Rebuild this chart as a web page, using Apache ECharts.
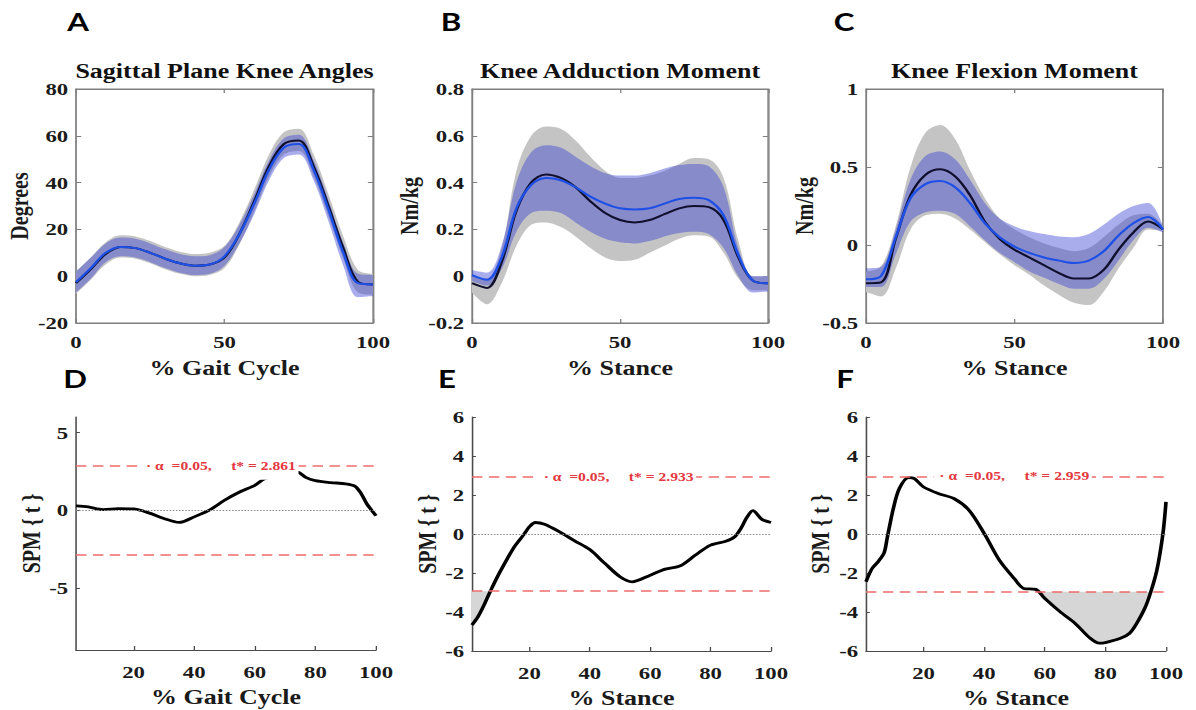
<!DOCTYPE html>
<html>
<head>
<meta charset="utf-8">
<title>Knee angles, moments and SPM</title>
<script src="https://cdn.jsdelivr.net/npm/echarts@6.0.0/dist/echarts.min.js"></script>
<style>
  html, body { margin: 0; padding: 0; background: #fff; overflow: hidden; }
  /* the source figure is stretched sideways, so the chart is drawn narrow and widened */
  #chart { width: 920px; height: 710px; transform: scaleX(1.3); transform-origin: 0 0; }
</style>
</head>
<body>
<div id="chart"></div>
<script>
// ---- data ----
// % cycle / % stance for the three waveform panels
const pctX = [0, 5, 10, 15, 20, 25, 30, 35, 40, 45, 50, 55, 60, 65, 70, 75, 80, 85, 90, 95, 100];

// A: sagittal plane knee angle (deg)
const angleBlack  = [-3, 3, 9.5, 12.5, 12, 10, 7.5, 5.5, 4.5, 5, 8, 18, 32, 47, 56.5, 58, 47, 30, 12, -2.5, -3.5];
const angleBlue   = [-2.5, 3.5, 10, 12.5, 12, 10, 7.5, 5.5, 4.5, 5, 8.5, 18, 31, 45.5, 55, 56.5, 45.5, 28.5, 10, -3, -3.5];
const angleGrayHi = [2, 8, 14.5, 17.5, 17, 15, 12.5, 10.5, 9.5, 10, 13, 23, 37, 52, 61.5, 63, 52, 35, 17, 2.5, 1];
const angleGrayLo = [-7.5, -1.5, 5, 8, 7.5, 5.5, 3, 1, 0, 0.5, 3.5, 13.5, 27.5, 42.5, 52, 53.5, 42.5, 25.5, 7.5, -7, -8];
const angleBlueHi = [2, 8, 14, 16.5, 16, 14, 11.5, 9.5, 8.5, 9, 12.5, 22, 35, 49.5, 59, 60.5, 49.5, 32.5, 14, 1, 0.5];
const angleBlueLo = [-7, -1, 6, 8.5, 8, 6, 3.5, 1.5, 0.5, 1, 4.5, 14, 26.5, 41, 50.5, 52, 41, 23.5, 4.5, -9, -8.5];

// B: knee adduction moment (Nm/kg)
const kamBlack  = [-0.03, -0.05, 0.06, 0.28, 0.40, 0.435, 0.42, 0.38, 0.32, 0.27, 0.24, 0.23, 0.24, 0.265, 0.29, 0.30, 0.295, 0.24, 0.08, -0.02, -0.03];
const kamBlue   = [0.005, -0.015, 0.08, 0.29, 0.39, 0.42, 0.41, 0.38, 0.34, 0.31, 0.29, 0.285, 0.29, 0.31, 0.33, 0.335, 0.325, 0.26, 0.09, -0.02, -0.03];
const kamGrayHi = [0.0, -0.01, 0.12, 0.45, 0.6, 0.64, 0.63, 0.58, 0.51, 0.45, 0.42, 0.42, 0.43, 0.45, 0.48, 0.505, 0.5, 0.42, 0.15, 0.0, 0.0];
const kamGrayLo = [-0.07, -0.12, -0.03, 0.13, 0.22, 0.23, 0.21, 0.17, 0.12, 0.08, 0.065, 0.07, 0.1, 0.13, 0.16, 0.175, 0.17, 0.1, -0.01, -0.06, -0.06];
const kamBlueHi = [0.025, 0.015, 0.13, 0.4, 0.53, 0.56, 0.55, 0.51, 0.47, 0.44, 0.43, 0.43, 0.44, 0.46, 0.475, 0.48, 0.47, 0.38, 0.12, 0.0, 0.0];
const kamBlueLo = [-0.02, -0.04, 0.03, 0.19, 0.27, 0.28, 0.27, 0.23, 0.19, 0.16, 0.145, 0.14, 0.15, 0.17, 0.185, 0.19, 0.18, 0.12, 0.0, -0.07, -0.065];

// C: knee flexion moment (Nm/kg)
const kfmBlack  = [-0.245, -0.24, 0.04, 0.32, 0.45, 0.485, 0.44, 0.32, 0.15, 0.04, -0.03, -0.08, -0.13, -0.18, -0.215, -0.215, -0.16, -0.03, 0.08, 0.15, 0.1];
const kfmBlue   = [-0.22, -0.2, 0.05, 0.3, 0.39, 0.41, 0.37, 0.27, 0.14, 0.05, -0.01, -0.05, -0.08, -0.1, -0.115, -0.1, -0.04, 0.06, 0.14, 0.18, 0.1];
const kfmGrayHi = [-0.17, -0.14, 0.12, 0.5, 0.72, 0.77, 0.68, 0.48, 0.3, 0.17, 0.1, 0.05, 0.01, -0.02, -0.04, -0.02, 0.05, 0.13, 0.19, 0.2, 0.12];
const kfmGrayLo = [-0.3, -0.33, -0.15, 0.1, 0.19, 0.2, 0.17, 0.1, 0.02, -0.06, -0.13, -0.19, -0.26, -0.32, -0.37, -0.385, -0.3, -0.15, -0.02, 0.1, 0.09];
const kfmBlueHi = [-0.15, -0.14, 0.1, 0.42, 0.57, 0.6, 0.55, 0.42, 0.27, 0.17, 0.12, 0.09, 0.07, 0.055, 0.05, 0.07, 0.13, 0.2, 0.25, 0.27, 0.12];
const kfmBlueLo = [-0.27, -0.27, -0.06, 0.15, 0.21, 0.22, 0.2, 0.12, 0.03, -0.05, -0.11, -0.17, -0.21, -0.25, -0.28, -0.28, -0.22, -0.1, 0.03, 0.11, 0.08];

// D: SPM{t} knee angle
const spmAngleX = [1, 5, 10, 15, 20, 25, 30, 35, 40, 45, 50, 55, 60, 63, 66, 70, 74, 77, 80, 85, 90, 93, 95, 97, 100];
const spmAngleT = [0.28, 0.21, 0.04, 0.1, 0.08, -0.17, -0.53, -0.79, -0.43, 0, 0.64, 1.17, 1.6, 2.0, 2.2, 2.4, 2.45, 2.1, 1.9, 1.78, 1.7, 1.55, 1.1, 0.4, -0.35];
const spmAngleCrit = 2.861;

// E: SPM{t} knee adduction moment
const spmKamX = [1, 3, 5, 7, 10, 15, 18, 20, 22, 25, 30, 35, 40, 45, 50, 54, 60, 65, 70, 75, 80, 85, 88, 90, 92, 94, 97, 100];
const spmKamT = [-4.67, -4.24, -3.64, -2.96, -2.02, -0.66, -0.06, 0.37, 0.59, 0.5, 0.11, -0.35, -0.8, -1.51, -2.19, -2.45, -2.11, -1.8, -1.63, -1.08, -0.57, -0.37, -0.14, 0.28, 0.85, 1.2, 0.75, 0.59];
const spmKamCrit = 2.933;

// F: SPM{t} knee flexion moment
const spmKfmX = [1, 3, 5, 7, 8, 10, 12, 15, 17, 20, 25, 30, 35, 40, 45, 50, 53, 57, 60, 65, 70, 75, 78, 80, 85, 88, 90, 93, 95, 97, 99, 100];
const spmKfmT = [-2.45, -1.77, -1.42, -0.95, -0.2, 1.3, 2.33, 2.89, 2.84, 2.41, 2.07, 1.82, 1.22, 0.03, -1.34, -2.3, -2.79, -2.84, -3.3, -3.98, -4.58, -5.35, -5.6, -5.57, -5.35, -5.09, -4.67, -3.81, -2.96, -1.85, 0.03, 1.65];
const spmKfmCrit = 2.959;

// ---- layout / style ----
const SX = 1.3; // sideways stretch of the page (see #chart css)
const SERIF = "'Liberation Serif', 'Times New Roman', serif";
const SANS = "Lato, 'Open Sans', sans-serif";
const BOX_GRAY = '#7f7f7f';
const AXIS_DARK = '#4a4a4a';
const GRAY_BAND = '#c4c4c4';
const BLUE_BAND = 'rgba(50, 60, 210, 0.42)';
const BLACK_LINE = '#10102e';
const BLUE_LINE = '#1f50e6';
const CRIT_RED = '#ef6b6b';

// plot boxes in final (stretched) pixels
const boxesPx = [
  { left: 76, top: 89, width: 297, height: 234 },
  { left: 472, top: 89, width: 296, height: 234 },
  { left: 866, top: 89, width: 297, height: 234 },
  { left: 76, top: 417, width: 300, height: 233 },
  { left: 472, top: 417, width: 299, height: 234 },
  { left: 866, top: 417, width: 300, height: 234 }
];
const boxes = boxesPx.map(b => ({ left: b.left / SX, top: b.top, width: b.width / SX, height: b.height }));

const tickFont = { color: '#1a1a1a', fontFamily: SERIF, fontWeight: 'bold', fontSize: 17.5 };
const nameFont = { color: '#1a1a1a', fontFamily: SERIF, fontWeight: 'bold', fontSize: 20 };

const wave = [
  { title: 'Sagittal Plane Knee Angles', xName: '% Gait Cycle', yName: 'Degrees', nameGap: 44, min: -20, max: 80, interval: 20,
    black: angleBlack, blue: angleBlue, grayHi: angleGrayHi, grayLo: angleGrayLo, blueHi: angleBlueHi, blueLo: angleBlueLo },
  { title: 'Knee Adduction Moment', xName: '% Stance', yName: 'Nm/kg', nameGap: 50, min: -0.2, max: 0.8, interval: 0.2,
    black: kamBlack, blue: kamBlue, grayHi: kamGrayHi, grayLo: kamGrayLo, blueHi: kamBlueHi, blueLo: kamBlueLo },
  { title: 'Knee Flexion Moment', xName: '% Stance', yName: 'Nm/kg', nameGap: 46, min: -0.5, max: 1, interval: 0.5,
    black: kfmBlack, blue: kfmBlue, grayHi: kfmGrayHi, grayLo: kfmGrayLo, blueHi: kfmBlueHi, blueLo: kfmBlueLo }
];

const spm = [
  { xName: '% Gait Cycle', nameGap: 31, min: -9, max: 6, yTicks: [-5, 0, 5], labelAt: 48.4, xs: spmAngleX, ts: spmAngleT, crit: spmAngleCrit, shade: false },
  { xName: '% Stance', nameGap: 32, min: -6, max: 6, interval: 2, labelAt: 49.1, xs: spmKamX, ts: spmKamT, crit: spmKamCrit, shade: true },
  { xName: '% Stance', nameGap: 33, min: -6, max: 6, interval: 2, labelAt: 49.5, xs: spmKfmX, ts: spmKfmT, crit: spmKfmCrit, shade: true }
];

function pairs(xs, ys) {
  return xs.map((x, i) => [x, ys[i]]);
}

// ---- axes ----
const xAxes = [];
const yAxes = [];

wave.forEach((p, i) => {
  xAxes.push({
    type: 'category', gridIndex: i, data: pctX.map(String), boundaryGap: false,
    axisLine: { show: true, onZero: false, lineStyle: { color: BOX_GRAY, width: 1 } },
    axisTick: { show: true, inside: true, length: 4, interval: 9, lineStyle: { color: BOX_GRAY } },
    axisLabel: Object.assign({ interval: 9, margin: 10 }, tickFont),
    splitLine: { show: false },
    name: p.xName, nameLocation: 'middle', nameGap: 35, nameTextStyle: nameFont
  });
  yAxes.push({
    type: 'value', gridIndex: i, min: p.min, max: p.max, interval: p.interval,
    axisLine: { show: true, onZero: false, lineStyle: { color: BOX_GRAY, width: 1 } },
    axisTick: { show: true, inside: true, length: 4, lineStyle: { color: BOX_GRAY } },
    axisLabel: Object.assign({ margin: 6 }, tickFont),
    splitLine: { show: false },
    name: p.yName, nameLocation: 'middle', nameGap: p.nameGap / SX, nameTextStyle: nameFont
  });
});

spm.forEach((p, k) => {
  const i = k + 3;
  xAxes.push({
    type: 'value', gridIndex: i, min: 1, max: 100,
    axisLine: { show: true, onZero: false, lineStyle: { color: AXIS_DARK, width: 1.2 } },
    axisTick: { show: true, inside: true, length: 4, customValues: [20, 40, 60, 80, 100], lineStyle: { color: AXIS_DARK } },
    axisLabel: Object.assign({ margin: 13, customValues: [20, 40, 60, 80, 100] }, tickFont),
    splitLine: { show: false },
    name: p.xName, nameLocation: 'middle', nameGap: 37, nameTextStyle: nameFont
  });
  const y = {
    type: 'value', gridIndex: i, min: p.min, max: p.max,
    axisLine: { show: true, onZero: false, lineStyle: { color: AXIS_DARK, width: 1.2 } },
    axisTick: { show: true, inside: true, length: 3, lineStyle: { color: AXIS_DARK } },
    axisLabel: Object.assign({ margin: 6 }, tickFont),
    splitLine: { show: false },
    name: 'SPM { t }', nameLocation: 'middle', nameGap: p.nameGap / SX, nameTextStyle: nameFont
  };
  if (p.interval) y.interval = p.interval;
  if (p.yTicks) {
    y.axisLabel.customValues = p.yTicks;
    y.axisTick.customValues = p.yTicks;
  }
  yAxes.push(y);
});

// mirrored ticks on top / right of the boxed panels
wave.forEach((p, i) => {
  xAxes.push({
    type: 'category', gridIndex: i, position: 'top', data: pctX.map(String), boundaryGap: false,
    axisLine: { show: true, onZero: false, lineStyle: { color: BOX_GRAY, width: 1 } },
    axisTick: { show: true, inside: true, length: 4, interval: 9, lineStyle: { color: BOX_GRAY } },
    axisLabel: { show: false }, splitLine: { show: false }
  });
  yAxes.push({
    type: 'value', gridIndex: i, position: 'right', min: p.min, max: p.max, interval: p.interval,
    axisLine: { show: true, onZero: false, lineStyle: { color: BOX_GRAY, width: 1 } },
    axisTick: { show: true, inside: true, length: 4, lineStyle: { color: BOX_GRAY } },
    axisLabel: { show: false }, splitLine: { show: false }
  });
});

// ---- series ----
const series = [];

function band(i, lo, hi, color, key) {
  const base = {
    type: 'line', xAxisIndex: i, yAxisIndex: i, stack: key + i, stackStrategy: 'all',
    smooth: 0.35, symbol: 'none', silent: true, lineStyle: { opacity: 0 }
  };
  series.push(Object.assign({}, base, { data: lo }));
  series.push(Object.assign({}, base, {
    data: hi.map((v, k) => +(v - lo[k]).toFixed(4)),
    areaStyle: { color: color, opacity: 1 }
  }));
}

function meanLine(i, ys, color) {
  series.push({
    type: 'line', xAxisIndex: i, yAxisIndex: i, data: ys, smooth: 0.35,
    symbol: 'none', silent: true, lineStyle: { color: color, width: 2 }
  });
}

wave.forEach((p, i) => {
  band(i, p.grayLo, p.grayHi, GRAY_BAND, 'gray');
  band(i, p.blueLo, p.blueHi, BLUE_BAND, 'blue');
  meanLine(i, p.black, BLACK_LINE);
  meanLine(i, p.blue, BLUE_LINE);
});

spm.forEach((p, k) => {
  const i = k + 3;
  if (p.shade) {
    series.push({
      type: 'line', xAxisIndex: i, yAxisIndex: i, smooth: 0.3, symbol: 'none', silent: true,
      data: pairs(p.xs, p.ts.map(v => Math.min(v, -p.crit))),
      lineStyle: { opacity: 0 },
      areaStyle: { color: '#d6d6d6', opacity: 1, origin: -p.crit }
    });
  }
  const dash = { color: CRIT_RED, type: [8, 5], width: 1.5 };
  const noLine = { color: 'rgba(255,255,255,0)', width: 1, type: 'solid' };
  series.push({
    type: 'line', xAxisIndex: i, yAxisIndex: i, smooth: 0.3, symbol: 'none', silent: true,
    data: pairs(p.xs, p.ts),
    lineStyle: { color: '#000', width: 2.8 },
    markLine: {
      silent: true, symbol: 'none', animation: false,
      data: [
        { yAxis: 0, lineStyle: { color: '#8a8a8a', type: 'dotted', width: 1.2 }, label: { show: false } },
        { yAxis: -p.crit, lineStyle: dash, label: { show: false } },
        { yAxis: p.crit, lineStyle: dash, label: { show: false } },
        [
          {
            coord: [p.labelAt - 5, p.crit], lineStyle: noLine,
            label: {
              show: true, position: 'insideMiddle',
              formatter: '\u00b7 \u03b1  =0.05,     t* = ' + p.crit.toFixed(3),
              color: '#e2383f', fontFamily: SERIF, fontWeight: 'bold', fontSize: 12,
              backgroundColor: '#fff', padding: [8, 2, 8, 4], opacity: 1
            }
          },
          { coord: [p.labelAt + 5, p.crit] }
        ]
      ]
    }
  });
});

// ---- titles and panel letters ----
const graphics = [];
wave.forEach((p, i) => {
  const b = boxesPx[i];
  graphics.push({
    type: 'text', x: (b.left + b.width / 2) / SX, y: 71,
    style: { text: p.title, fill: '#111', font: 'bold 20px ' + SERIF, textAlign: 'center', textVerticalAlign: 'middle' }
  });
});
[['A', 78, 22], ['B', 451, 22], ['C', 844, 22], ['D', 75, 379], ['E', 447, 379], ['F', 845, 379]].forEach(l => {
  graphics.push({
    type: 'text', x: l[1] / SX, y: l[2],
    style: { text: l[0], fill: '#000', font: 'bold 24px ' + SANS, textAlign: 'center', textVerticalAlign: 'middle' }
  });
});

const option = {
  backgroundColor: '#fff',
  animation: false,
  grid: boxes.map((b, i) => Object.assign({
    show: i < 3, borderColor: BOX_GRAY, borderWidth: 1, backgroundColor: 'transparent',
    containLabel: false, outerBoundsMode: 'none'
  }, b)),
  xAxis: xAxes,
  yAxis: yAxes,
  series: series,
  graphic: graphics
};

const chart = echarts.init(document.getElementById('chart'), null, { renderer: 'svg' });
chart.setOption(option);
window.addEventListener('resize', chart.resize, false);
</script>
</body>
</html>
